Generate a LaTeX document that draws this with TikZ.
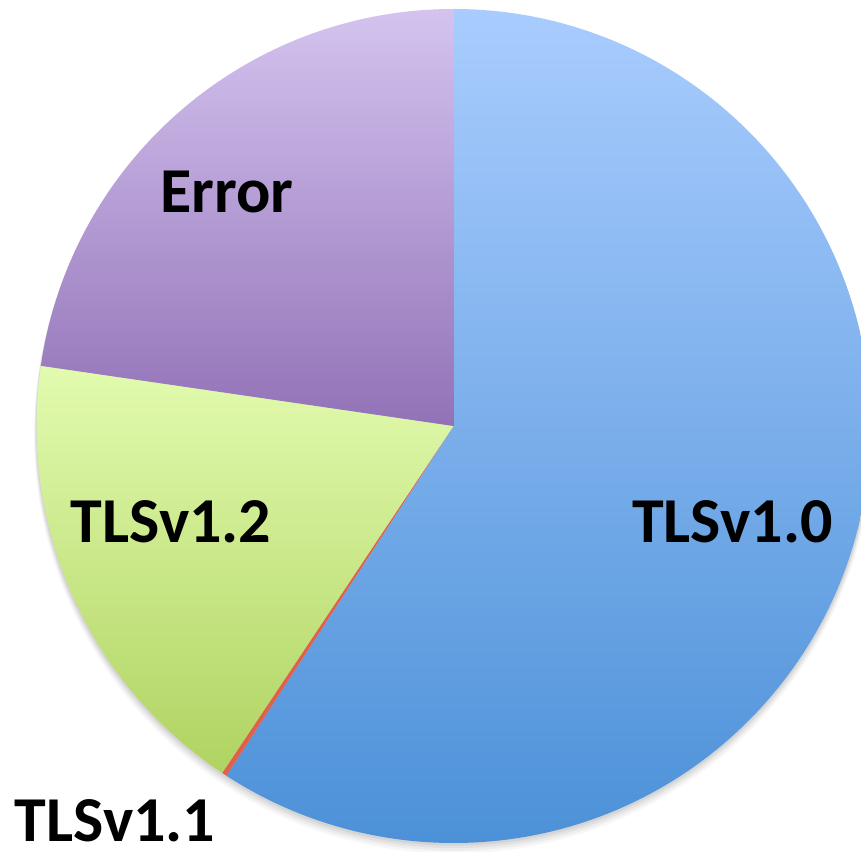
\documentclass[tikz,border=0pt]{standalone}
\usepackage{fontspec}
\setmainfont{Carlito}
\usetikzlibrary{calc}
\definecolor{blueTop}{HTML}{A9CCFE}
\definecolor{blueBot}{HTML}{4C91D8}
\definecolor{purpTop}{HTML}{D4C3EF}
\definecolor{purpBot}{HTML}{9272B7}
\definecolor{greenTop}{HTML}{E2FBAF}
\definecolor{greenBot}{HTML}{B0D361}
\definecolor{redSl}{HTML}{E0604A}
\begin{document}
\begin{tikzpicture}[x=1pt,y=1pt,
  lbl/.style={font=\fontsize{64}{64}\selectfont\bfseries, text=black, inner sep=0pt, anchor=base}]
\useasboundingbox (0,0) rectangle (861,851);
\clip (0,0) rectangle (861,851);
\coordinate (C) at (453.5,425);
\def\R{417}
% soft shadow
\foreach \i/\o in {8/0.03,6/0.04,4/0.05,2/0.06}{
  \fill[black, opacity=\o] ($(C)+(0,-\i)$) circle[radius=\R+\i*0.3];
}
% slices
\shade[top color=blueTop, bottom color=blueBot] (C) -- ++(90:\R) arc[start angle=90, end angle=-123, radius=\R] -- cycle;
\fill[redSl] (C) -- ++(236.3:\R) arc[start angle=236.3, end angle=237.0, radius=\R] -- cycle;
\shade[top color=greenTop, bottom color=greenBot] (C) -- ++(171.7:\R) arc[start angle=171.7, end angle=236.3, radius=\R] -- cycle;
\shade[top color=purpTop, bottom color=purpBot] (C) -- ++(90:\R) arc[start angle=90, end angle=171.7, radius=\R] -- cycle;
% labels
\node[lbl] (l10) at (732.5,308) {TLSv1.0};
\node[lbl] (l12) at (171,308) {TLSv1.2};
\node[lbl] (lerr) at (227,638) {Error};
\node[lbl] (l11) at (115,10) {TLSv1.1};
\end{tikzpicture}
\end{document}
